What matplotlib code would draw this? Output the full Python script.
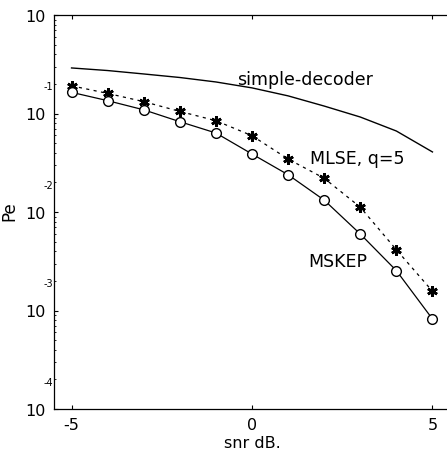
import matplotlib
matplotlib.use("Agg")
import matplotlib.pyplot as plt
import matplotlib.transforms as mtransforms
from matplotlib.ticker import LogLocator, NullFormatter, FixedLocator

snr = [-5, -4, -3, -2, -1, 0, 1, 2, 3, 4, 5]
pe_simple = [0.290, 0.273, 0.252, 0.232, 0.209, 0.182, 0.151, 0.119, 0.0921, 0.0664, 0.0407]
pe_mlse = [0.191, 0.160, 0.132, 0.105, 0.0845, 0.0595, 0.0345, 0.0220, 0.0112, 0.00414, 0.00157]
pe_mskep = [0.164, 0.135, 0.109, 0.0826, 0.0634, 0.0388, 0.0239, 0.0132, 0.00598, 0.00254, 0.00082]

y_decades = [-4, -3, -2, -1, 0]
x_ticks = [-5, 0, 5]

fig = plt.figure(figsize=(4.47, 4.56), dpi=100)
ax = fig.add_axes([53.5 / 447, 46 / 456, 397 / 447, 394 / 456])

ax.plot(snr, pe_simple, color="black", lw=1.0)
ax.plot(snr, pe_mlse, color="black", lw=0.9, linestyle=(0, (2.5, 3.5)),
        marker=(6, 2, 0), markersize=7.5, markeredgewidth=1.9)
ax.plot(snr, pe_mskep, color="black", lw=0.9, marker="o", markersize=7,
        markerfacecolor="white", markeredgewidth=1.0)

ax.set_yscale("log")
ax.set_xlim(-5.5, 5.5)
ax.set_ylim(1e-4, 1)

ax.set_xticks(x_ticks)
ax.set_xticklabels([str(t) for t in x_ticks], fontsize=11.5)
ax.yaxis.set_major_locator(FixedLocator([10.0 ** d for d in y_decades]))
ax.set_yticklabels(["10"] * len(y_decades), fontsize=11.5)
ax.yaxis.set_minor_locator(LogLocator(base=10, subs=range(2, 10)))
ax.yaxis.set_minor_formatter(NullFormatter())

ax.tick_params(which="major", direction="in", length=3, width=0.8, top=True, right=False, pad=6)
ax.tick_params(which="minor", direction="in", length=1.5, width=0.6, right=False)
for s in ax.spines.values():
    s.set_linewidth(0.9)

# small exponents above each "10" label, the way the old plot printed them
trans = mtransforms.blended_transform_factory(ax.transAxes, ax.transData)
trans = mtransforms.offset_copy(trans, fig=fig, y=27, units="dots")
for d in y_decades:
    if d != 0:
        ax.text(-0.012, 10.0 ** d, str(d), transform=trans, fontsize=7,
                ha="center", va="center")

ax.text(-0.42, 0.224, "simple-decoder", fontsize=12.5, va="center")
ax.text(1.62, 0.0353, "MLSE, q=5", fontsize=12.5, va="center")
ax.text(1.55, 0.00318, "MSKEP", fontsize=12.5, va="center")

ax.set_xlabel("snr dB.", fontsize=11.5, labelpad=2)
ax.set_ylabel("Pe", fontsize=12)
ax.yaxis.set_label_coords(-0.088, 0.505)

fig.savefig("out.png", dpi=100)
